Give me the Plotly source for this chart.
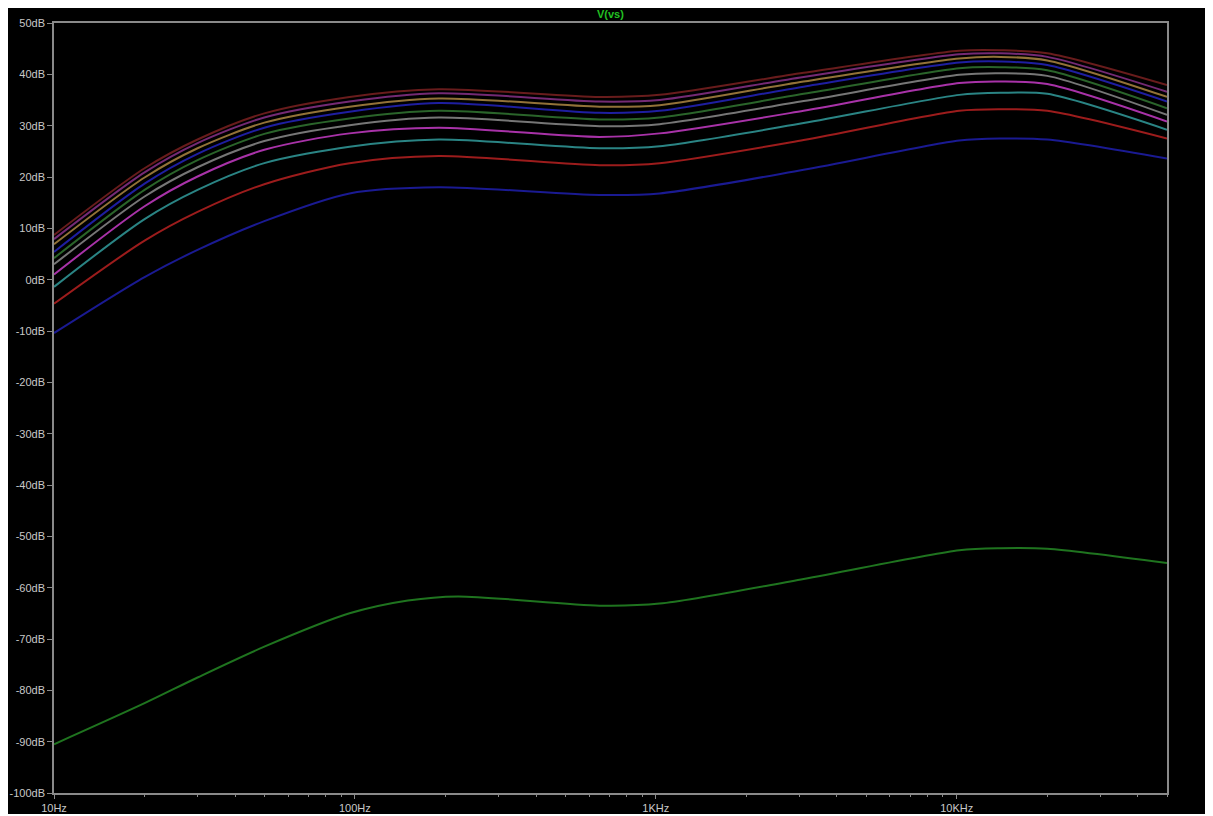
import plotly.graph_objects as go

freq = [10, 20, 30, 50, 96, 190, 650, 1030, 3100, 10200, 14000, 20000, 50000]
freq_low = [10, 20, 30, 50, 96, 150, 220, 650, 1030, 3100, 10200, 14000, 20000, 50000]

step_0 = [-90.5, -82.5, -77.5, -71.5, -65.0, -62.5, -61.7, -63.5, -63.1, -58.3, -52.7, -52.3, -52.4, -55.2]
step_1 = [-10.4, 0.5, 5.8, 11.4, 16.8, 18.0, 16.5, 16.8, 21.4, 27.1, 27.5, 27.3, 23.6]
step_2 = [-4.7, 7.6, 13.2, 18.6, 22.7, 24.1, 22.3, 22.7, 27.2, 32.9, 33.2, 32.9, 27.5]
step_3 = [-1.4, 11.8, 17.5, 22.7, 25.9, 27.3, 25.6, 26.0, 30.5, 36.0, 36.4, 36.2, 29.2]
step_4 = [1.0, 14.3, 20.1, 25.3, 28.5, 29.6, 27.8, 28.5, 32.9, 38.3, 38.6, 38.1, 30.8]
step_5 = [3.0, 16.2, 21.9, 27.0, 30.1, 31.6, 29.9, 30.3, 34.8, 39.9, 40.2, 39.7, 32.1]
step_6 = [4.2, 17.5, 23.3, 28.4, 31.4, 32.9, 31.2, 31.6, 36.2, 41.2, 41.4, 40.8, 33.4]
step_7 = [5.4, 18.7, 24.5, 29.6, 32.7, 34.4, 32.5, 32.9, 37.6, 42.3, 42.5, 41.8, 34.7]
step_8 = [6.9, 19.9, 25.6, 30.6, 33.7, 35.3, 33.7, 34.0, 38.6, 43.1, 43.4, 42.7, 35.6]
step_9 = [7.9, 20.9, 26.6, 31.6, 34.7, 36.3, 34.7, 35.0, 39.5, 43.9, 44.1, 43.4, 36.6]
step_10 = [8.7, 21.7, 27.3, 32.4, 35.6, 37.1, 35.6, 36.0, 40.3, 44.6, 44.7, 44.1, 37.9]

steps = [step_0, step_1, step_2, step_3, step_4, step_5, step_6, step_7, step_8, step_9, step_10]
colors = ["#1f741f", "#1a1a92", "#9c1c1c", "#2a8484", "#a832a8", "#767676",
          "#2a642a", "#1e1ea0", "#927238", "#742a74", "#681c1c"]

x_tickvals = [10, 100, 1000, 10000]
x_ticktext = ["10Hz", "100Hz", "1KHz", "10KHz"]
y_tickvals = list(range(-100, 51, 10))
y_ticktext = [f"{v}dB" for v in y_tickvals]

fig = go.Figure()
for i, (vals, c) in enumerate(zip(steps, colors)):
    xs = freq_low if i == 0 else freq
    fig.add_trace(go.Scatter(x=xs, y=vals, mode="lines",
                             line=dict(color=c, width=2, shape="spline", smoothing=0.8),
                             hoverinfo="skip", showlegend=False))

# page has an 8px body margin: figure origin sits at page (8, 8)
W, H = 1205, 808
L, T = 46, 15
R = W - 1159
B = H - 785
pw, ph = W - L - R, H - T - B

fig.add_shape(type="rect", xref="paper", yref="paper",
              x0=-L / pw, x1=(W - L) / pw,
              y0=(H - B - 806) / ph, y1=(H - B) / ph + 0.01,
              fillcolor="black", line=dict(width=0), layer="below")

fig.add_annotation(text="<b>V(vs)</b>", xref="paper", yref="paper", x=0.4996,
                   y=(H - B - 6) / ph, showarrow=False, xanchor="center", yanchor="middle",
                   font=dict(family="Liberation Sans", size=11, color="#22c022"))

axis_font = dict(family="Liberation Sans", size=11, color="#c8c8c8")
fig.update_xaxes(type="log", range=[1, 4.69897], tickvals=x_tickvals, ticktext=x_ticktext,
                 automargin=False,
                 showgrid=False, zeroline=False, showline=True, mirror=True,
                 linecolor="#8a8a8a", linewidth=1.5, ticks="outside", ticklen=4,
                 tickcolor="#8a8a8a", tickfont=axis_font,
                 minor=dict(ticks="outside", ticklen=2, tickcolor="#8a8a8a", dtick="D1", showgrid=False))
fig.update_yaxes(range=[-100, 50], tickvals=y_tickvals, ticktext=y_ticktext,
                 automargin=False,
                 showgrid=False, zeroline=False, showline=True, mirror=True,
                 linecolor="#8a8a8a", linewidth=1.5, ticks="outside", ticklen=5,
                 tickcolor="#8a8a8a", tickfont=axis_font)

fig.update_layout(width=W, height=H, margin=dict(l=L, r=R, t=T, b=B, autoexpand=False),
                  paper_bgcolor="white", plot_bgcolor="black", showlegend=False)

fig.write_html("out.html")
